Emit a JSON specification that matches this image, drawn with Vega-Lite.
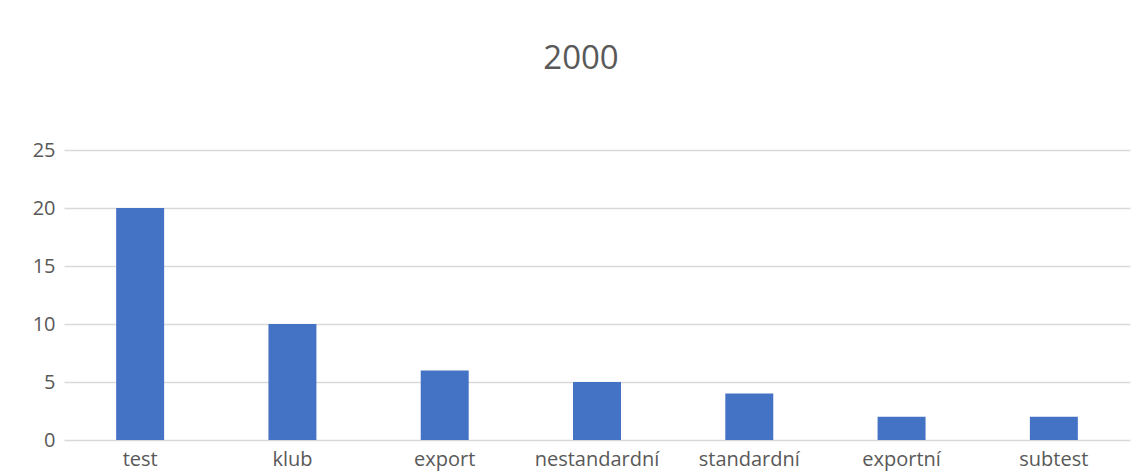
{
  "$schema": "https://vega.github.io/schema/vega-lite/v6.json",
  "autosize": "none",
  "width": 1066,
  "height": 290,
  "padding": {"left": 64, "top": 150, "right": 9, "bottom": 33},
  "background": "white",
  "title": {
    "text": "2000",
    "fontSize": 33,
    "font": "Open Sans",
    "fontWeight": "normal",
    "color": "#595959",
    "anchor": "middle",
    "dx": -16,
    "offset": 64
  },
  "data": {
    "values": [
      {"word": "test", "count": 20},
      {"word": "klub", "count": 10},
      {"word": "export", "count": 6},
      {"word": "nestandardní", "count": 5},
      {"word": "standardní", "count": 4},
      {"word": "exportní", "count": 2},
      {"word": "subtest", "count": 2}
    ]
  },
  "mark": {"type": "bar", "color": "#4472C4"},
  "encoding": {
    "x": {
      "field": "word",
      "type": "nominal",
      "sort": null,
      "scale": {"paddingInner": 0.685, "paddingOuter": 0.3425},
      "axis": {
        "title": null,
        "labelAngle": 0,
        "ticks": false,
        "domain": false,
        "labelPadding": 9,
        "labelFontSize": 20,
        "labelFont": "Open Sans",
        "labelColor": "#595959"
      }
    },
    "y": {
      "field": "count",
      "type": "quantitative",
      "scale": {"domain": [0, 25]},
      "axis": {
        "title": null,
        "values": [0, 5, 10, 15, 20, 25],
        "ticks": false,
        "domain": false,
        "labelPadding": 9,
        "labelFontSize": 20,
        "labelFont": "Open Sans",
        "labelColor": "#595959",
        "gridColor": "#d9d9d9",
        "gridWidth": 1.5
      }
    }
  },
  "config": {"view": {"stroke": null}}
}
